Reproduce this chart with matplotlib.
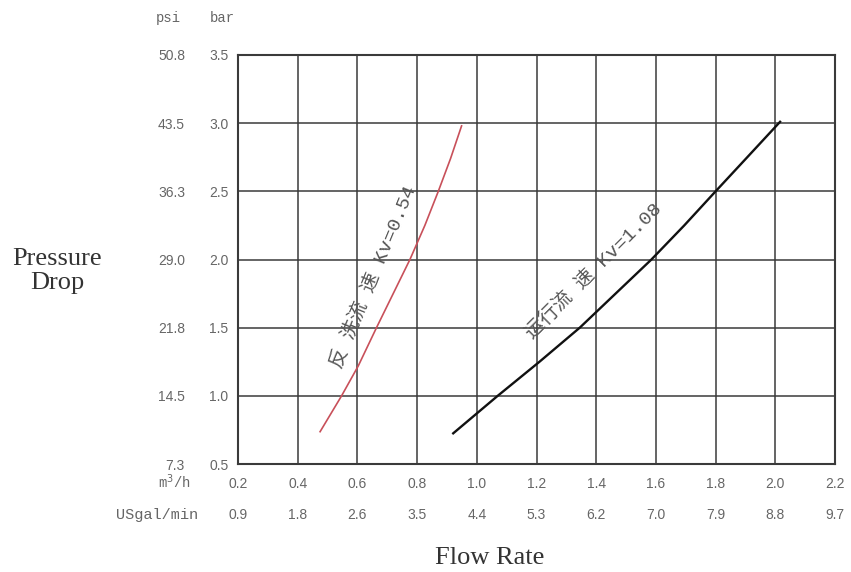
import matplotlib
matplotlib.use('Agg')
import matplotlib.pyplot as plt
import numpy as np

# ---- data ----
flow_ticks = [0.2, 0.4, 0.6, 0.8, 1.0, 1.2, 1.4, 1.6, 1.8, 2.0, 2.2]
usgal_labels = ['0.9', '1.8', '2.6', '3.5', '4.4', '5.3', '6.2', '7.0', '7.9', '8.8', '9.7']
bar_ticks = [0.5, 1.0, 1.5, 2.0, 2.5, 3.0, 3.5]
psi_labels = ['7.3', '14.5', '21.8', '29.0', '36.3', '43.5', '50.8']

# backwash curve, Kv=0.54 (m3/h, bar)
backwash_flow = [0.475, 0.547, 0.603, 0.664, 0.720, 0.776, 0.826, 0.871, 0.912, 0.949]
backwash_dp = [0.737, 1.0, 1.22, 1.5, 1.75, 2.0, 2.25, 2.5, 2.74, 2.98]

# service curve, Kv=1.08 (m3/h, bar)
service_flow = [0.921, 1.070, 1.210, 1.345, 1.465, 1.585, 1.695, 1.800, 1.906, 2.016]
service_dp = [0.725, 1.0, 1.25, 1.5, 1.75, 2.0, 2.25, 2.5, 2.75, 3.01]

tick_col = '#666666'
grid_col = '#3a3a3a'

fig = plt.figure(figsize=(8.51, 5.72), dpi=100)
ax = fig.add_axes([238/851, 1-464/572, 597/851, 409/572])

ax.plot(backwash_flow, backwash_dp, color='#c8505a', lw=1.2)
ax.plot(service_flow, service_dp, color='#111111', lw=1.7)

ax.set_xlim(0.2, 2.2)
ax.set_ylim(0.5, 3.5)
ax.set_xticks(flow_ticks)
ax.set_xticklabels(['%.1f' % v for v in flow_ticks])
ax.set_yticks(bar_ticks)
ax.set_yticklabels(['%.1f' % v for v in bar_ticks])
ax.grid(True, color=grid_col, lw=1.1)
for s in ax.spines.values():
    s.set_color(grid_col)
    s.set_linewidth(1.5)
ax.tick_params(length=0, labelcolor=tick_col, labelsize=10)
ax.tick_params(axis='x', pad=9.5)
ax.tick_params(axis='y', pad=7)
for lab in ax.get_xticklabels() + ax.get_yticklabels():
    lab.set_family('Liberation Sans')

# second row of x labels (US gal/min)
sec_x = ax.secondary_xaxis(-44/409)
sec_x.set_xticks(flow_ticks)
sec_x.set_xticklabels(usgal_labels)
sec_x.spines['bottom'].set_visible(False)
sec_x.tick_params(length=0, labelcolor=tick_col, labelsize=10, pad=0)
for lab in sec_x.get_xticklabels():
    lab.set_family('Liberation Sans')

# psi column on the left
sec_y = ax.secondary_yaxis(-53/597)
sec_y.set_yticks(bar_ticks)
sec_y.set_yticklabels(psi_labels)
sec_y.spines['left'].set_visible(False)
sec_y.tick_params(length=0, labelcolor=tick_col, labelsize=10, pad=0)
for lab in sec_y.get_yticklabels():
    lab.set_family('Liberation Sans')

# unit headers
mono = 'Liberation Mono'
fig.text(168/851, 1-18/572, 'psi', family=mono, fontsize=10, color=tick_col, ha='center', va='center')
fig.text(222/851, 1-18/572, 'bar', family=mono, fontsize=10, color=tick_col, ha='center', va='center')
fig.text(174/851, 1-482/572, 'm$^3$/h', family=mono, fontsize=10, color=tick_col, ha='center', va='center')
fig.text(157/851, 1-515/572, 'USgal/min', family=mono, fontsize=11, color=tick_col, ha='center', va='center')

# axis titles
fig.text(57/851, 1-271/572, 'Pressure\nDrop', family='Liberation Serif', fontsize=19,
         color='#333333', ha='center', va='center', linespacing=1.1)
fig.text(490/851, 1-558/572, 'Flow Rate', family='Liberation Serif', fontsize=19,
         color='#333333', ha='center', va='center')

# curve labels
lab_font = ['Liberation Mono', 'Noto Sans CJK SC']
ax.text(0.655, 1.87, '反 洗流 速 Kv=0.54', family=lab_font, fontsize=14, color='#555555',
        rotation=67.5, ha='center', va='center', rotation_mode='anchor')
ax.text(1.39, 1.92, '运行流 速 Kv=1.08', family=lab_font, fontsize=14, color='#555555',
        rotation=45, ha='center', va='center', rotation_mode='anchor')

fig.savefig('out.png', dpi=100)
